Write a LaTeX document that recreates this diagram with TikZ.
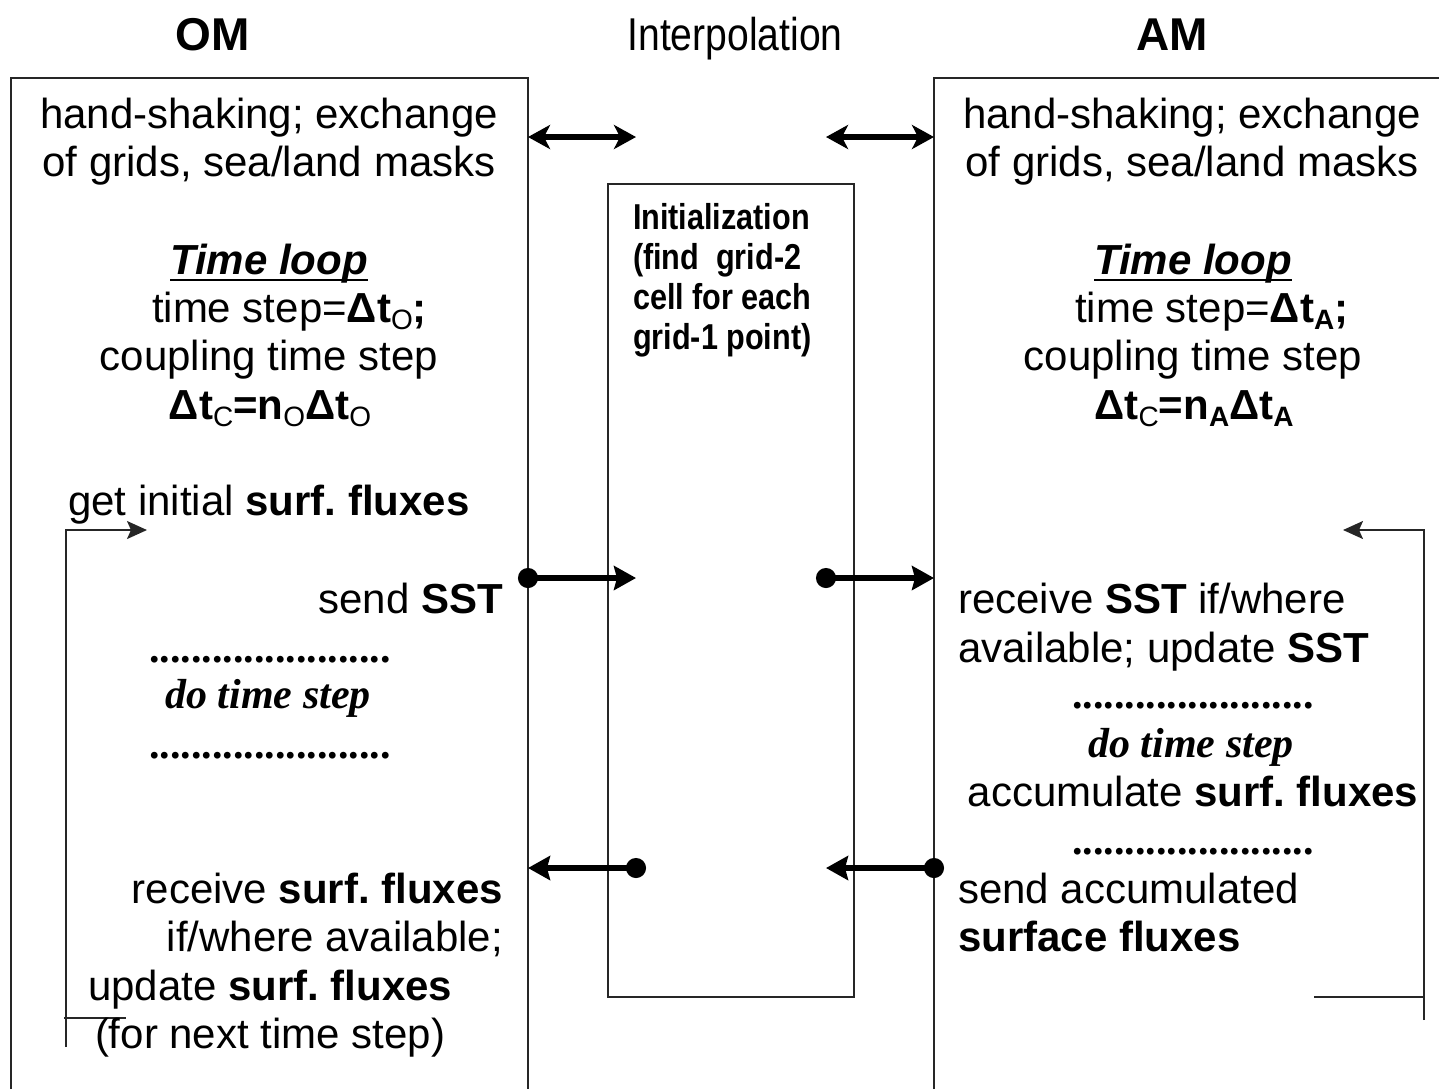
\documentclass[tikz,border=0pt]{standalone}
\usepackage{fontspec}
\setmainfont{Liberation Sans}
\newfontfamily\narrowfont[FakeStretch=0.85]{Liberation Sans}
\newfontfamily\timesfont{Liberation Serif}
\usetikzlibrary{arrows.meta}
\newcommand\lsub[1]{\raisebox{-0.18em}{\fontsize{14}{14}\selectfont\mdseries #1}}
\newcommand\lsubb[1]{\raisebox{-0.18em}{\fontsize{14}{14}\selectfont\bfseries #1}}
\begin{document}
\begin{tikzpicture}[x=0.5pt,y=-0.5pt,
  txt/.style={inner sep=0pt, outer sep=0pt, font=\fontsize{21}{24}\selectfont},
  ttl/.style={inner sep=0pt, outer sep=0pt, font=\fontsize{23}{26}\selectfont\bfseries},
  nrw/.style={inner sep=0pt, outer sep=0pt, font=\fontsize{23}{26}\selectfont\narrowfont},
  ini/.style={inner sep=0pt, outer sep=0pt, font=\fontsize{18}{20}\selectfont\narrowfont\bfseries, anchor=base west},
  dots/.style={inner sep=0pt, outer sep=0pt, font=\fontsize{21}{24}\selectfont\timesfont\bfseries, anchor=base},
  dostep/.style={inner sep=0pt, outer sep=0pt, font=\fontsize{21}{24}\selectfont\timesfont\bfseries\itshape, anchor=base},
  frame/.style={line width=0.9pt, draw=black!85},
  bigtip/.style={line width=3pt, {Stealth[length=11pt,width=12pt,inset=3pt]}-{Stealth[length=11pt,width=12pt,inset=3pt]}},
  sendarr/.style={line width=3pt, shorten <=-5pt, {Circle[length=10pt]}-{Stealth[length=11pt,width=12pt,inset=1.5pt]}},
  looparr/.style={line width=0.9pt, draw=black!85, -{Stealth[length=10pt,width=9pt,inset=2pt]}},
  loopline/.style={line width=0.9pt, draw=black!85}
]
\useasboundingbox (0,0) rectangle (1439,1089);

% titles
\node[ttl, anchor=base] (tOM) at (213,50) {OM};
\node[nrw, anchor=base] (tIP) at (735,50) {Interpolation};
\node[ttl, anchor=base] (tAM) at (1172,50) {AM};

% frames
\draw[frame] (11,1089) -- (11,78) -- (528,78) -- (528,1089);
\draw[frame] (934,1089) -- (934,78) -- (1439,78);
\draw[frame] (608,184) rectangle (854,997);

% coordinates on frames
\coordinate (omH) at (528,137);
\coordinate (ipHL) at (636,137);
\coordinate (ipHR) at (826,137);
\coordinate (amH) at (934,137);
\coordinate (omS) at (528,578);
\coordinate (ipSL) at (636,578);
\coordinate (ipSR) at (826,578);
\coordinate (amS) at (934,578);
\coordinate (omF) at (528,868);
\coordinate (ipFL) at (636,868);
\coordinate (ipFR) at (826,868);
\coordinate (amF) at (934,868);

% interface arrows
\draw[bigtip] (omH) -- (ipHL);
\draw[bigtip] (ipHR) -- (amH);
\draw[sendarr] (omS) -- (ipSL);
\draw[sendarr] (ipSR) -- (amS);
\draw[sendarr] (ipFL) -- (omF);
\draw[sendarr] (amF) -- (ipFR);

% left loop
\coordinate (llb) at (66,1047);
\coordinate (llt) at (66,530);
\coordinate (lla) at (147,530);
\coordinate (lls1) at (64,1018);
\coordinate (lls2) at (126,1018);
\draw[looparr] (llb) -- (llt) -- (lla);
\draw[loopline] (lls1) -- (lls2);

% right loop
\coordinate (rlb) at (1424,1020);
\coordinate (rlt) at (1424,530);
\coordinate (rla) at (1343,530);
\coordinate (rls1) at (1314,997);
\coordinate (rls2) at (1424,997);
\draw[looparr] (rlb) -- (rlt) -- (rla);
\draw[loopline] (rls1) -- (rls2);

% OM text
\node[txt, anchor=base] (oh1) at (269,128) {hand-shaking; exchange};
\node[txt, anchor=base] (oh2) at (269,176) {of grids, sea/land masks};
\node[txt, anchor=base, font=\fontsize{21}{24}\selectfont\bfseries\itshape] (otl) at (269,274) {Time loop};
\draw[line width=1pt] ([yshift=-3pt]otl.base west) -- ([yshift=-3pt]otl.base east);
\node[txt, anchor=base west] (ots) at (152,322) {time step=\textbf{Δt\lsub{O};}};
\node[txt, anchor=base] (ocp) at (269,370) {coupling time step};
\node[txt, anchor=base] (odc) at (270,419) {\textbf{Δt\lsub{C}=n\lsub{O}Δt\lsub{O}}};
\node[txt, anchor=base west] (ogi) at (68,515) {get initial \textbf{surf.\ fluxes}};
\node[txt, anchor=base east] (oss) at (503,613) {send \textbf{SST}};
\node[dots] (od1) at (270,662) {.......................};
\node[dostep] (ods) at (268,708) {do time step};
\node[dots] (od2) at (270,758) {.......................};
\node[txt, anchor=base east] (orf) at (503,903) {receive \textbf{surf.\ fluxes}};
\node[txt, anchor=base east] (oiw) at (503,951) {if/where available;};
\node[txt, anchor=base west] (oup) at (88,1000) {update \textbf{surf.\ fluxes}};
\node[txt, anchor=base west] (onx) at (95,1048) {(for next time step)};

% Interpolation box text
\node[ini] (i1) at (633,229) {Initialization};
\node[ini] (i2) at (633,269) {(find~ grid-2};
\node[ini] (i3) at (633,309) {cell for each};
\node[ini] (i4) at (633,349) {grid-1 point)};

% AM text
\node[txt, anchor=base] (ah1) at (1192,128) {hand-shaking; exchange};
\node[txt, anchor=base] (ah2) at (1192,176) {of grids, sea/land masks};
\node[txt, anchor=base, font=\fontsize{21}{24}\selectfont\bfseries\itshape] (atl) at (1193,274) {Time loop};
\draw[line width=1pt] ([yshift=-3pt]atl.base west) -- ([yshift=-3pt]atl.base east);
\node[txt, anchor=base west] (ats) at (1075,322) {time step=\textbf{Δt\lsubb{A};}};
\node[txt, anchor=base] (acp) at (1193,370) {coupling time step};
\node[txt, anchor=base] (adc) at (1194,419) {\textbf{Δt\lsub{C}=n\lsubb{A}Δt\lsubb{A}}};
\node[txt, anchor=base west] (ars) at (958,613) {receive \textbf{SST} if/where};
\node[txt, anchor=base west] (aav) at (958,662) {available; update \textbf{SST}};
\node[dots] (ad1) at (1193,708) {.......................};
\node[dostep] (ads) at (1191,757) {do time step};
\node[txt, anchor=base] (aac) at (1193,806) {accumulate \textbf{surf.\ fluxes}};
\node[dots] (ad2) at (1193,854) {.......................};
\node[txt, anchor=base west] (asa) at (958,903) {send accumulated};
\node[txt, anchor=base west, font=\fontsize{21}{24}\selectfont\bfseries] (asf) at (958,951) {surface fluxes};
\end{tikzpicture}
\end{document}
